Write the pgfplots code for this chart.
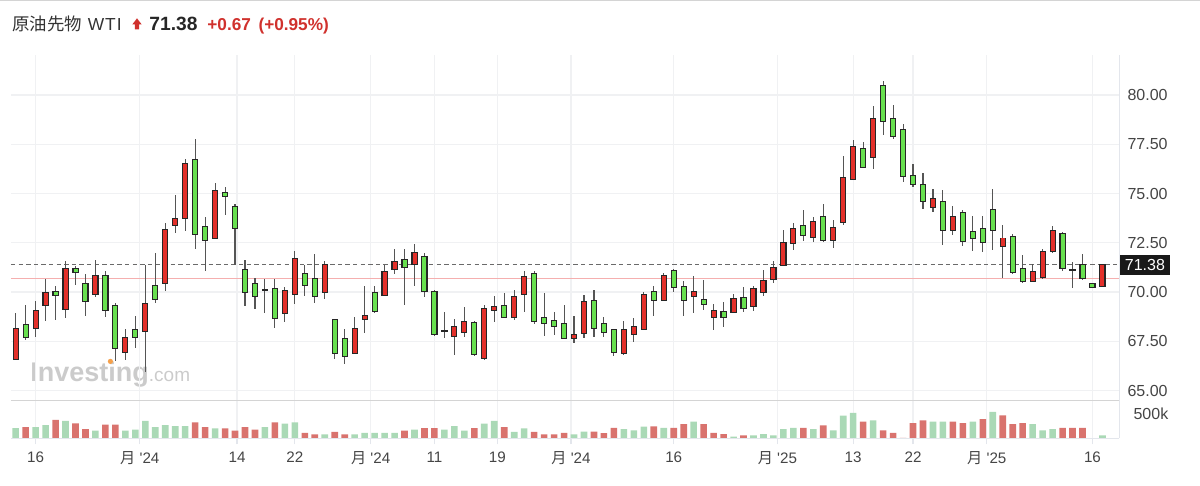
\documentclass[border=0pt]{standalone}
\usepackage{fontspec}
\setmainfont{Liberation Sans}
\newfontfamily\cjk{Noto Sans CJK JP}
\usepackage{pgfplots}
\pgfplotsset{compat=1.18}
\usepackage{pgfplotstable}

\definecolor{cred}{HTML}{E3302A}
\definecolor{cgreen}{HTML}{68E04F}
\definecolor{wick}{HTML}{555555}
\definecolor{volg}{HTML}{AAD9B6}
\definecolor{volr}{HTML}{D9736E}
\definecolor{gridc}{HTML}{F0F1F3}
\definecolor{sepc}{HTML}{D4D4D4}
\definecolor{borderc}{HTML}{E3E6EC}
\definecolor{labc}{HTML}{454545}
\definecolor{hdrred}{HTML}{D0312D}
\definecolor{hdr}{HTML}{333333}
\definecolor{prevc}{HTML}{F5AFAF}
\definecolor{dashc}{HTML}{6A6A6A}
\definecolor{wmc}{HTML}{CBCBCB}
\definecolor{wmo}{HTML}{F5A04A}

% red = rising candles (open = bottom, close = top)
\pgfplotstableread{
i open high low close
1 66.61 68.93 66.53 68.13
3 68.20 69.57 67.70 69.05
4 69.32 70.68 68.53 69.93
6 69.15 71.56 68.67 71.19
9 69.91 71.61 69.74 70.83
12 66.94 68.14 66.55 67.67
14 68.01 71.36 65.95 69.40
16 70.46 73.52 70.08 73.14
17 73.40 74.91 73.01 73.69
18 73.74 76.75 73.09 76.51
21 72.72 75.51 72.67 75.12
28 68.93 70.26 68.50 70.05
29 69.91 72.09 69.40 71.70
32 69.98 71.56 69.66 71.36
35 66.92 68.76 66.85 68.13
36 68.62 70.29 67.91 68.81
38 69.86 71.39 69.81 71.02
39 71.17 72.21 70.92 71.53
41 71.45 72.45 70.32 71.96
45 67.78 68.63 66.80 68.25
46 67.96 69.23 67.70 68.50
48 66.68 69.35 66.58 69.15
49 69.08 69.78 68.47 69.22
51 68.72 70.12 68.59 69.74
52 69.90 71.05 69.01 70.77
57 67.69 68.81 67.43 67.82
58 67.91 69.83 67.65 69.52
62 66.89 68.55 66.80 68.08
63 67.86 68.67 67.45 68.25
64 68.13 70.00 68.08 69.86
66 69.61 70.97 69.56 70.82
69 69.78 70.83 68.96 70.00
71 68.76 69.40 68.08 69.05
73 69.01 69.91 68.98 69.66
75 69.27 70.32 69.06 70.17
76 69.98 71.10 69.78 70.54
77 70.68 71.56 70.46 71.22
78 71.39 73.15 71.34 72.50
79 72.50 73.52 72.13 73.18
81 72.79 73.83 72.53 73.55
83 72.65 73.65 72.24 73.26
84 73.55 76.92 73.38 75.78
85 75.73 77.72 75.69 77.34
87 76.83 79.44 76.24 78.76
93 74.33 75.25 74.08 74.71
95 73.14 74.37 72.92 73.82
100 72.36 73.40 70.71 72.72
103 70.54 71.43 70.49 71.00
104 70.75 72.19 70.68 72.02
105 72.11 73.35 71.99 73.09
110 70.29 71.39 70.25 71.36
}\redtab

% green = falling candles (open = top, close = bottom)
\pgfplotstableread{
i open high low close
2 68.33 69.35 67.57 67.70
5 70.00 70.32 68.59 69.86
7 71.17 71.31 70.37 71.00
8 70.42 70.93 68.79 69.56
10 70.83 71.05 68.72 69.10
11 69.27 69.47 66.51 67.17
13 68.08 68.81 67.14 67.70
15 70.29 71.99 69.44 69.66
19 76.68 77.77 72.19 72.96
20 73.28 73.81 71.05 72.62
22 75.01 75.34 73.89 74.88
23 74.30 74.45 71.36 73.26
24 71.13 71.61 69.27 69.98
25 70.42 70.71 69.13 69.81
26 70.12 70.66 68.93 70.12
27 70.17 70.66 68.16 68.67
30 70.93 71.39 69.81 70.34
31 70.66 71.92 69.47 69.81
33 68.56 68.62 66.63 66.92
34 67.62 68.11 66.34 66.77
37 69.95 70.32 68.96 69.06
40 71.62 72.21 69.35 71.26
42 71.79 71.96 69.73 70.08
43 70.00 70.12 67.77 67.87
44 68.03 69.01 67.65 68.03
47 68.45 68.54 66.75 66.84
50 69.27 69.95 68.67 68.72
53 70.94 71.05 68.38 68.54
54 68.67 69.95 67.77 68.45
55 68.55 68.98 67.82 68.30
56 68.38 69.35 67.65 67.69
59 69.57 70.12 67.70 68.20
60 68.38 68.76 67.70 67.96
61 68.08 68.13 66.75 66.97
65 70.00 70.30 68.78 69.61
67 71.05 71.19 70.03 70.25
68 70.24 70.58 68.81 69.61
70 69.61 70.63 69.10 69.39
72 68.98 69.52 68.21 68.76
74 69.69 70.25 68.98 69.18
80 73.35 74.17 72.58 72.89
82 73.83 74.49 72.52 72.64
86 77.26 77.60 76.32 76.36
88 80.44 80.69 77.97 78.70
89 78.76 79.50 77.77 77.90
90 78.23 78.53 75.59 75.90
91 75.90 76.49 75.35 75.47
92 75.42 76.02 74.20 74.62
94 74.59 75.18 72.41 73.14
96 74.03 74.15 72.36 72.58
97 73.04 73.86 72.07 72.72
98 73.21 73.86 72.02 72.53
99 74.15 75.22 72.12 73.14
101 72.80 72.97 70.93 71.00
102 71.17 71.87 70.46 70.54
106 72.97 73.04 71.05 71.22
107 71.10 71.51 70.20 71.10
108 71.36 71.94 70.63 70.71
109 70.40 70.42 70.25 70.28
}\greentab

% volume (thousands)
\pgfplotstableread{
i v
1 211
3 232
4 275
6 359
9 162
12 162
13 183
14 359
15 232
16 275
17 253
18 253
21 204
26 232
28 303
29 331
32 84
35 84
36 113
37 113
38 113
39 113
41 183
44 183
45 253
46 162
48 303
49 359
51 134
52 204
57 84
58 138
62 189
63 167
64 240
66 218
69 342
73 36
75 65
76 87
77 65
78 189
79 218
81 189
83 167
84 465
85 523
87 371
93 342
94 342
97 342
99 545
103 291
104 167
105 189
110 65
}\volgtab

\pgfplotstableread{
i v
2 232
5 380
7 310
8 190
10 282
11 282
19 331
20 232
22 204
23 162
24 232
25 183
27 331
30 113
31 84
33 134
34 84
40 162
42 211
43 211
47 211
50 232
53 134
54 84
55 84
56 113
59 138
60 109
61 218
65 247
67 218
68 291
70 291
71 116
72 87
74 65
80 218
82 269
86 342
88 167
89 116
90 15
91 313
92 371
95 342
96 313
98 393
100 473
101 291
102 313
106 218
107 218
108 218
}\volrtab

\pgfplotsset{
  base/.style={
    scale only axis, anchor=south west,
    width=554.15pt,
    xmin=0.53, xmax=111.69,
    axis line style={draw=none},
    xtick={3,13.45,23.2,29,36.6,43,49.3,56.7,67,77.4,85,91,98.4,109},
    xmajorgrids, grid style={gridc, line width=0.6pt},
    /pgf/number format/assume math mode=true,
  },
  wicks/.style={draw=none, mark=none,
    error bars/.cd, y dir=both, y explicit, error mark=none,
    error bar style={draw=wick, line width=0.55pt}},
  outline/.style={draw=none, mark=none,
    error bars/.cd, y dir=both, y explicit, error mark=none,
    error bar style={draw=black!85, line width=3.1pt}},
  inner/.style={draw=none, mark=none,
    error bars/.cd, y dir=both, y explicit, error mark=none,
    error bar style={draw=#1, line width=2pt}},
}

\begin{document}
\begin{tikzpicture}
\path[use as bounding box] (0pt,0pt) rectangle (600pt,243pt);
\draw[sepc, line width=0.6pt] (0pt,242.7pt) -- (600pt,242.7pt);

% watermark
\node[anchor=base west, inner sep=0pt, text=wmc] at (15pt,52pt)
  {\fontsize{13.5}{13.5}\selectfont\bfseries Investing{\fontsize{9.5}{9.5}\selectfont\mdseries .com}};

% header
\node[anchor=base west, inner sep=0pt, text=hdr] at (6pt,227.6pt)
  {\fontsize{8.7}{8.7}\selectfont{\cjk 原油先物}\hspace{2.9pt}W\kern0.5pt T\kern0.5pt I};
\fill[hdrred] (66.15pt,230.75pt) -- (68.5pt,233.85pt) -- (70.85pt,230.75pt) -- (69.6pt,230.75pt)
  -- (69.6pt,228.35pt) -- (67.4pt,228.35pt) -- (67.4pt,230.75pt) -- cycle;
\node[anchor=base west, inner sep=0pt, text=black!85] at (74.5pt,227.6pt)
  {\fontsize{9.6}{9.6}\selectfont\bfseries 71.38};
\node[anchor=base west, inner sep=0pt, text=hdrred] at (103.5pt,227.6pt)
  {\fontsize{8.6}{8.6}\selectfont\bfseries +0.67 \,(+0.95\%)};

% price panel
\begin{axis}[base, at={(5.5pt,42.65pt)}, height=172.85pt,
  ymin=64.49, ymax=82.03, clip=false,
  xticklabels={}, major tick length=0pt,
  ymajorgrids,
  ytick={65,67.5,70,72.5,75,77.5,80},
  yticklabel pos=right,
  yticklabel style={font=\fontsize{8}{8}\selectfont, text=labc, xshift=0.6pt,
    /pgf/number format/.cd, fixed, fixed zerofill, precision=2},
]
\addplot[prevc, line width=0.55pt] coordinates {(0.53,70.71) (111.69,70.71)};
\addplot[dashc, line width=0.6pt, dash pattern=on 2.2pt off 1.6pt] coordinates {(0.53,71.38) (111.69,71.38)};

\addplot[wicks] table[x=i, y=open, y error plus expr=\thisrow{high}-\thisrow{open}, y error minus expr=\thisrow{open}-\thisrow{low}] {\redtab};
\addplot[wicks] table[x=i, y=open, y error plus expr=\thisrow{high}-\thisrow{open}, y error minus expr=\thisrow{open}-\thisrow{low}] {\greentab};

\addplot[outline] table[x=i, y=open, y error plus expr=\thisrow{close}-\thisrow{open}+0.05, y error minus expr=0.05] {\redtab};
\addplot[inner=cred] table[x=i, y=open, y error plus expr=\thisrow{close}-\thisrow{open}, y error minus expr=0] {\redtab};
\addplot[outline] table[x=i, y=close, y error plus expr=\thisrow{open}-\thisrow{close}+0.05, y error minus expr=0.05] {\greentab};
\addplot[inner=cgreen] table[x=i, y=close, y error plus expr=\thisrow{open}-\thisrow{close}, y error minus expr=0] {\greentab};

\draw[sepc, line width=0.8pt] (rel axis cs:0,0) -- (rel axis cs:1,0);
\draw[borderc, line width=0.7pt] (rel axis cs:1,0) -- (rel axis cs:1,1);
\node[fill=black!90, text=white, anchor=west, inner xsep=2.6pt, inner ysep=0pt,
  minimum height=10pt, font=\fontsize{8}{8}\selectfont] at (axis cs:111.69,71.38) {71.38};
\end{axis}

% volume panel
\begin{axis}[base, at={(5.5pt,23.75pt)}, height=18.75pt,
  ymin=0, ymax=765, clip=false,
  ybar, bar width=3.3pt,
  xticklabels={16,{\cjk 月} \textquotesingle24,14,22,{\cjk 月} \textquotesingle24,11,19,{\cjk 月} \textquotesingle24,16,{\cjk 月} \textquotesingle25,13,22,{\cjk 月} \textquotesingle25,16},
  xticklabel style={font=\fontsize{7.6}{7.6}\selectfont, text=labc, yshift=0pt},
  xtick pos=bottom, tick align=outside, major tick length=3pt,
  xtick style={draw=borderc, line width=0.6pt},
  ytick={500}, yticklabels={500k}, yticklabel pos=right,
  ytick style={draw=none},
  yticklabel style={font=\fontsize{8}{8}\selectfont, text=labc, xshift=0.6pt},
]
\addplot[fill=volg, draw=none, bar shift=0pt] table[x=i, y=v] {\volgtab};
\addplot[fill=volr, draw=none, bar shift=0pt] table[x=i, y=v] {\volrtab};
\draw[borderc, line width=0.8pt] (rel axis cs:0,0) -- (rel axis cs:1,0);
\draw[borderc, line width=0.7pt] (rel axis cs:1,0) -- (rel axis cs:1,1);
\end{axis}

\fill[wmo] (55.2pt,62.3pt) circle (1.3pt);
\end{tikzpicture}
\end{document}
